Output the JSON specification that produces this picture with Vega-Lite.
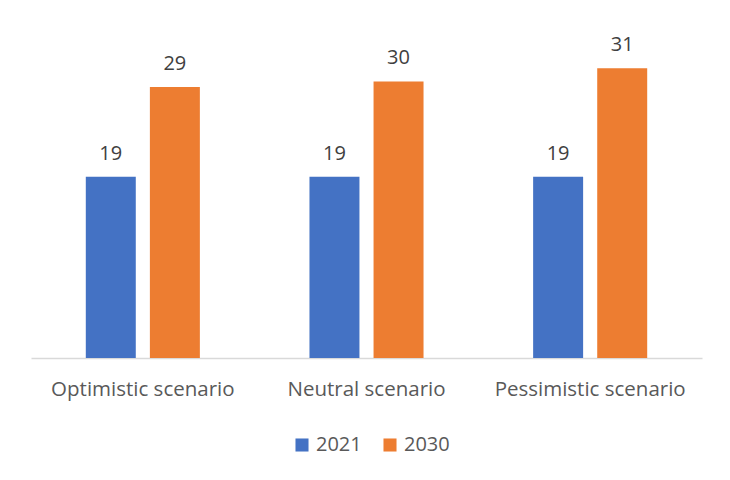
{
  "$schema": "https://vega.github.io/schema/vega-lite/v6.json",
  "autosize": "none",
  "width": 671,
  "height": 327,
  "padding": {"left": 31, "top": 31, "right": 28, "bottom": 122},
  "background": "white",
  "config": {"view": {"stroke": null}, "font": "Open Sans"},
  "data": {
    "values": [
      {"scenario": "Optimistic scenario", "year": "2021", "value": 19.4},
      {"scenario": "Optimistic scenario", "year": "2030", "value": 29.0},
      {"scenario": "Neutral scenario", "year": "2021", "value": 19.4},
      {"scenario": "Neutral scenario", "year": "2030", "value": 29.6},
      {"scenario": "Pessimistic scenario", "year": "2021", "value": 19.4},
      {"scenario": "Pessimistic scenario", "year": "2030", "value": 31.0}
    ]
  },
  "encoding": {
    "x": {
      "field": "scenario", "type": "nominal", "sort": null,
      "scale": {"paddingInner": 0.49, "paddingOuter": 0.245},
      "axis": {
        "title": null, "labelAngle": 0, "ticks": false, "domainColor": "#d9d9d9",
        "domainWidth": 1.5, "labelFontSize": 20.5, "labelColor": "#595959",
        "labelPadding": 21, "labelFont": "Open Sans", "labelLimit": 400
      }
    },
    "xOffset": {"field": "year", "type": "nominal", "scale": {"paddingInner": 0.22, "paddingOuter": 0}},
    "y": {"field": "value", "type": "quantitative", "scale": {"domain": [0, 35]}, "axis": null}
  },
  "layer": [
    {
      "mark": {"type": "bar"},
      "encoding": {
        "color": {
          "field": "year", "type": "nominal",
          "scale": {"domain": ["2021", "2030"], "range": ["#4472C4", "#ED7D31"]},
          "legend": {
            "title": null, "orient": "none", "direction": "horizontal",
            "legendX": 261, "legendY": 404, "symbolType": "square", "symbolSize": 170,
            "symbolStrokeWidth": 0, "labelFontSize": 20, "labelColor": "#595959",
            "labelFont": "Open Sans", "columnPadding": 18, "labelOffset": 4
          }
        }
      }
    },
    {
      "mark": {"type": "text", "baseline": "alphabetic", "dy": -17, "fontSize": 20, "color": "#404040", "font": "Open Sans"},
      "encoding": {"text": {"field": "value", "type": "quantitative", "format": ".0f"}}
    }
  ]
}
